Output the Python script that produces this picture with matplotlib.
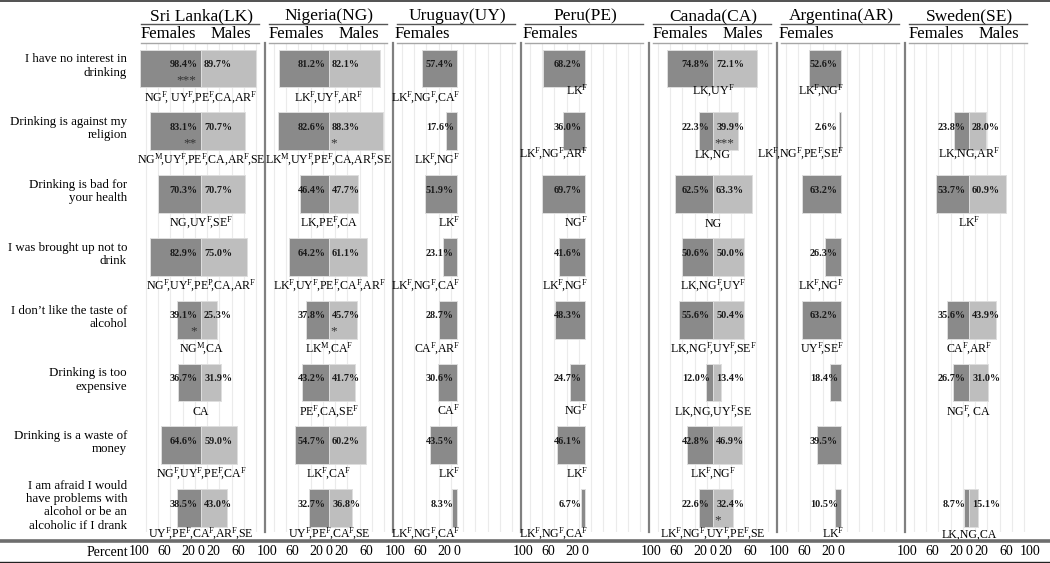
import re
import numpy as np
import matplotlib
matplotlib.use('Agg')
import matplotlib.pyplot as plt
from matplotlib.lines import Line2D
from matplotlib.transforms import blended_transform_factory

plt.rcParams['font.family'] = ['Liberation Serif', 'DejaVu Serif']
plt.rcParams['mathtext.fontset'] = 'custom'
plt.rcParams['mathtext.rm'] = 'Liberation Serif'
plt.rcParams['mathtext.it'] = 'Liberation Serif:italic'
plt.rcParams['mathtext.bf'] = 'Liberation Serif:bold'

# ---------------- data ----------------
reasons = [
    "I have no interest in\ndrinking",
    "Drinking is against my\nreligion",
    "Drinking is bad for\nyour health",
    "I was brought up not to\ndrink",
    "I don\u2019t like the taste of\nalcohol",
    "Drinking is too\nexpensive",
    "Drinking is a waste of\nmoney",
    "I am afraid I would\nhave problems with\nalcohol or be an\nalcoholic if I drank",
]
countries = ["Sri Lanka(LK)", "Nigeria(NG)", "Uruguay(UY)", "Peru(PE)",
             "Canada(CA)", "Argentina(AR)", "Sweden(SE)"]

lk_f = [98.4, 83.1, 70.3, 82.9, 39.1, 36.7, 64.6, 38.5]
lk_m = [89.7, 70.7, 70.7, 75.0, 25.3, 31.9, 59.0, 43.0]
ng_f = [81.2, 82.6, 46.4, 64.2, 37.8, 43.2, 54.7, 32.7]
ng_m = [82.1, 88.3, 47.7, 61.1, 45.7, 41.7, 60.2, 36.8]
uy_f = [57.4, 17.6, 51.9, 23.1, 28.7, 30.6, 43.5, 8.3]
pe_f = [68.2, 36.0, 69.7, 41.6, 48.3, 24.7, 46.1, 6.7]
ca_f = [74.8, 22.3, 62.5, 50.6, 55.6, 12.0, 42.8, 22.6]
ca_m = [72.1, 39.9, 63.3, 50.0, 50.4, 13.4, 46.9, 32.4]
ar_f = [52.6, 2.6, 63.2, 26.3, 63.2, 18.4, 39.5, 10.5]
se_f = [None, 23.8, 53.7, None, 35.6, 26.7, None, 8.7]
se_m = [None, 28.0, 60.9, None, 43.9, 31.0, None, 15.1]

females = [lk_f, ng_f, uy_f, pe_f, ca_f, ar_f, se_f]
males = [lk_m, ng_m, None, None, ca_m, None, se_m]

# significance notes below each bar ("^X" = superscript X)
lk_notes = ["NG^F, UY^F,PE^F,CA,AR^F", "NG^M,UY^F,PE^F,CA,AR^F,SE", "NG,UY^F,SE^F",
            "NG^F,UY^F,PE^P,CA,AR^F", "NG^M,CA", "CA", "NG^F,UY^F,PE^F,CA^F",
            "UY^F,PE^F,CA^F,AR^F,SE"]
ng_notes = ["LK^F,UY^F,AR^F", "LK^M,UY^F,PE^F,CA,AR^F,SE", "LK,PE^F,CA",
            "LK^F,UY^F,PE^F,CA^F,AR^F", "LK^M,CA^F", "PE^F,CA,SE^F", "LK^F,CA^F",
            "UY^F,PE^F,CA^F,SE"]
uy_notes = ["LK^F,NG^F,CA^F", "LK^F,NG^F", "LK^F", "LK^F,NG^F,CA^F", "CA^F,AR^F",
            "CA^F", "LK^F", "LK^F,NG^F,CA^F"]
pe_notes = ["LK^F", "LK^F,NG^F,AR^F", "NG^F", "LK^F,NG^F", "", "NG^F", "LK^F",
            "LK^F,NG^F,CA^F"]
ca_notes = ["LK,UY^F", "LK,NG", "NG", "LK,NG^F,UY^F", "LK,NG^F,UY^F,SE^F",
            "LK,NG,UY^F,SE", "LK^F,NG^F", "LK^F,NG^F,UY^F,PE^F,SE"]
ar_notes = ["LK^F,NG^F", "LK^F,NG^F,PE^F,SE^F", "", "LK^F,NG^F", "UY^F,SE^F", "",
            "", "LK^F"]
se_notes = ["", "LK,NG,AR^F", "LK^F", "", "CA^F,AR^F", "NG^F, CA", "", "LK,NG,CA"]
notes = [lk_notes, ng_notes, uy_notes, pe_notes, ca_notes, ar_notes, se_notes]

# gender-difference stars: (country index, row, sex, text)
stars = [(0, 0, 'F', '***'), (0, 1, 'F', '**'), (1, 1, 'M', '*'), (4, 1, 'M', '***'),
         (0, 4, 'F', '*'), (1, 4, 'M', '*'), (4, 7, 'M', '*')]

tick_vals = [-100, -60, -20, 0, 20, 60, 100]
grid_vals = [-90, -70, -50, -30, -10, 10, 30, 50, 70, 90]

# ---------------- layout ----------------
W, H = 1050, 563
fig = plt.figure(figsize=(W / 100, H / 100), dpi=100)

def fx(x):
    return x / W

def fy(y):
    return 1 - y / H

F_COL = '#8a8a8a'
M_COL = '#bebebe'
EDGE = '#dedede'

p_left0, p_w = 137, 128
ax_top, ax_bot = 43, 532
row0, row_sp = 68.5, 62.8
ylim = (7 + (ax_bot - (row0 + 7 * row_sp)) / row_sp, -(row0 - ax_top) / row_sp)

def rows_px(px):
    return px / row_sp

def to_math(s):
    return re.sub(r'\^(\w)', r'$^{\\mathrm{\1}}\\!$', s)

n_rows = len(reasons)
for i, cname in enumerate(countries):
    left = p_left0 + i * p_w
    ax = fig.add_axes([fx(left), fy(ax_bot), p_w / W, (ax_bot - ax_top) / H])
    ax.set_xlim(-104, 104)
    ax.set_ylim(*ylim)
    for g in grid_vals:
        ax.axvline(g, color='#ebebeb', lw=0.8, zorder=0)
    for s in ['top', 'right', 'bottom']:
        ax.spines[s].set_visible(False)
    if i == 0:
        ax.spines['left'].set_visible(False)
    else:
        ax.spines['left'].set_color('#808080')
        ax.spines['left'].set_linewidth(1.6)
    ax.set_yticks([])

    fvals = females[i]
    mvals = males[i]
    fr = [r for r in range(n_rows) if fvals[r] is not None]
    ax.barh(fr, [-fvals[r] for r in fr], height=0.6, color=F_COL,
            edgecolor=EDGE, linewidth=0.7, zorder=2)
    for r in fr:
        ax.text(-5, r - 0.06, f"{fvals[r]:.1f}%", ha='right', va='center',
                fontsize=7.3, fontweight='bold', color='#1a1a1a', zorder=4)
    if mvals is not None:
        mr = [r for r in range(n_rows) if mvals[r] is not None]
        ax.barh(mr, [mvals[r] for r in mr], height=0.6, color=M_COL,
                edgecolor=EDGE, linewidth=0.7, zorder=2)
        for r in mr:
            ax.text(5, r - 0.06, f"{mvals[r]:.1f}%", ha='left', va='center',
                    fontsize=7.3, fontweight='bold', color='#1a1a1a', zorder=4)

    # notes under bars
    for r in range(n_rows):
        s = notes[i][r]
        if not s:
            continue
        dy = 28
        if i >= 3 and r <= 1:
            dy = 21.5
        if r == n_rows - 1:
            dy = 25
        y = r + rows_px(dy + 4.5)
        if mvals is not None:
            ax.text(0, y, to_math(s), ha='center', va='baseline', fontsize=8.6,
                    zorder=5)
        else:
            ax.text(5, y, to_math(s), ha='right', va='baseline', fontsize=8.6,
                    zorder=5)

    # ticks
    if mvals is not None:
        tv = [t for t in tick_vals if t < 100 or i == len(countries) - 1]
    else:
        tv = [t for t in tick_vals if t <= 0]
    ax.set_xticks(tv)
    ax.set_xticklabels([str(abs(t)) for t in tv], fontsize=10)
    ax.tick_params(axis='x', length=0, pad=9.5)

    # headers
    cx = left + p_w / 2
    fig.text(fx(cx), fy(16), cname, ha='center', va='center', fontsize=12.5)
    fig.add_artist(Line2D([fx(left + 4), fx(left + p_w - 6)], [fy(24), fy(24)],
                          color='#555555', lw=1.0))
    fig.add_artist(Line2D([fx(left + 4), fx(left + p_w - 6)], [fy(43), fy(43)],
                          color='#a6a6a6', lw=1.0))
    tr = blended_transform_factory(ax.transData, fig.transFigure)
    if mvals is not None:
        ax.text(-53, fy(33.5), "Females", ha='center', va='center', fontsize=12,
                transform=tr)
        ax.text(49, fy(33.5), "Males", ha='center', va='center', fontsize=12,
                transform=tr)
    else:
        ax.text(-101, fy(33.5), "Females", ha='left', va='center', fontsize=12,
                transform=tr)

for (ci, r, sex, txt) in stars:
    ax = fig.axes[ci]
    if sex == 'F':
        ax.text(-7, r + 0.19, txt, ha='right', va='center', fontsize=9.5,
                color='#333333', zorder=5)
    else:
        ax.text(3, r + 0.19, txt, ha='left', va='center', fontsize=9.5,
                color='#333333', zorder=5)

# row labels
ax0 = fig.axes[0]
tr0 = blended_transform_factory(fig.transFigure, ax0.transData)
for r, lab in enumerate(reasons):
    ax0.text(fx(127), r - 0.04, lab, ha='right', va='center', fontsize=9.3,
             linespacing=1.15, transform=tr0)

fig.text(fx(128), fy(552), "Percent", ha='right', va='center', fontsize=10)

# frame lines
fig.add_artist(Line2D([0, 1], [fy(1.2), fy(1.2)], color='#333333', lw=1.2))
fig.add_artist(Line2D([0, 1], [fy(541), fy(541)], color='#6d6d6d', lw=2.6))
fig.add_artist(Line2D([0, 1], [fy(562), fy(562)], color='#222222', lw=1.0))

fig.savefig('out.png', dpi=100)
